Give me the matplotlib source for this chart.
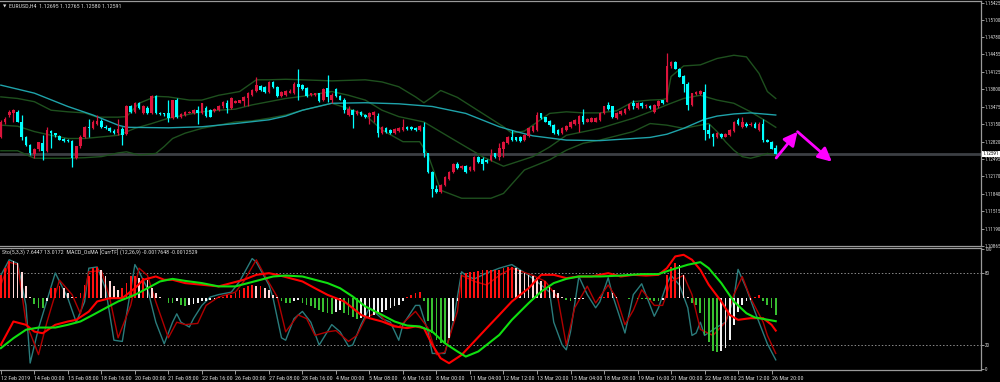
import matplotlib.pyplot as plt
import matplotlib.transforms as mtransforms
from matplotlib import font_manager
import numpy as np

# EURUSD H4 candles, bar 0 = 12 Feb 2019 16:00, last bar = 27 Mar 00:00
opens = [
    1.1291, 1.1318, 1.1332, 1.1336, 1.1338, 1.1319, 1.1290, 1.1276, 1.1259, 1.1268,
    1.1280, 1.1265, 1.1302, 1.1298, 1.1293, 1.1287, 1.1285, 1.1283, 1.1251, 1.1273,
    1.1290, 1.1309, 1.1308, 1.1316, 1.1321, 1.1310, 1.1307, 1.1302, 1.1299, 1.1306,
    1.1296, 1.1348, 1.1338, 1.1354, 1.1335, 1.1346, 1.1335, 1.1367, 1.1336, 1.1335,
    1.1335, 1.1326, 1.1360, 1.1328, 1.1332, 1.1336, 1.1336, 1.1341, 1.1335, 1.1346,
    1.1341, 1.1340, 1.1341, 1.1348, 1.1355, 1.1346, 1.1355, 1.1355, 1.1359, 1.1363,
    1.1369, 1.1377, 1.1386, 1.1385, 1.1376, 1.1394, 1.1385, 1.1367, 1.1369, 1.1374,
    1.1373, 1.1391, 1.1388, 1.1382, 1.1369, 1.1369, 1.1373, 1.1360, 1.1382, 1.1360,
    1.1380, 1.1367, 1.1361, 1.1332, 1.1341, 1.1334, 1.1338, 1.1332, 1.1329, 1.1332,
    1.1330, 1.1298, 1.1307, 1.1304, 1.1299, 1.1302, 1.1304, 1.1310, 1.1310, 1.1308,
    1.1304, 1.1310, 1.1260, 1.1226, 1.1194, 1.1188, 1.1201, 1.1213, 1.1226, 1.1241,
    1.1232, 1.1236, 1.1229, 1.1229, 1.1254, 1.1249, 1.1248, 1.1248, 1.1260, 1.1253,
    1.1269, 1.1279, 1.1291, 1.1290, 1.1290, 1.1285, 1.1293, 1.1302, 1.1304, 1.1335,
    1.1328, 1.1321, 1.1313, 1.1304, 1.1299, 1.1304, 1.1310, 1.1315, 1.1316, 1.1330,
    1.1319, 1.1319, 1.1319, 1.1323, 1.1335, 1.1351, 1.1348, 1.1326, 1.1334, 1.1336,
    1.1343, 1.1354, 1.1346, 1.1355, 1.1348, 1.1349, 1.1338, 1.1348, 1.1360, 1.1357,
    1.1423, 1.1432, 1.1419, 1.1405, 1.1391, 1.1351, 1.1371, 1.1371, 1.1376, 1.1304,
    1.1296, 1.1290, 1.1296, 1.1291, 1.1294, 1.1302, 1.1323, 1.1309, 1.1316, 1.1313,
    1.1316, 1.1304, 1.1316, 1.1286, 1.1282, 1.12695]
highs = [
    1.1323, 1.1328, 1.1341, 1.1344, 1.1341, 1.1332, 1.1293, 1.1278, 1.1271, 1.1282,
    1.1294, 1.1310, 1.1304, 1.1299, 1.1295, 1.1288, 1.1287, 1.1286, 1.1274, 1.1294,
    1.1311, 1.1324, 1.1323, 1.1332, 1.1324, 1.1313, 1.1309, 1.1305, 1.1324, 1.1310,
    1.1350, 1.1350, 1.1357, 1.1356, 1.1350, 1.1349, 1.1370, 1.1369, 1.1338, 1.1336,
    1.1361, 1.1361, 1.1363, 1.1336, 1.1340, 1.1340, 1.1343, 1.1348, 1.1355, 1.1348,
    1.1343, 1.1346, 1.1351, 1.1359, 1.1360, 1.1365, 1.1360, 1.1361, 1.1367, 1.1376,
    1.1380, 1.1404, 1.1388, 1.1387, 1.1396, 1.1396, 1.1386, 1.1377, 1.1379, 1.1380,
    1.1393, 1.1419, 1.1390, 1.1384, 1.1374, 1.1374, 1.1374, 1.1382, 1.1407, 1.1373,
    1.1382, 1.1369, 1.1363, 1.1348, 1.1343, 1.1341, 1.1340, 1.1334, 1.1338, 1.1340,
    1.1335, 1.1311, 1.1309, 1.1306, 1.1307, 1.1309, 1.1324, 1.1312, 1.1312, 1.1310,
    1.1313, 1.1319, 1.1261, 1.1228, 1.1201, 1.1202, 1.1217, 1.1228, 1.1242, 1.1244,
    1.1238, 1.1238, 1.1236, 1.1255, 1.1256, 1.1254, 1.1249, 1.1269, 1.1261, 1.1279,
    1.1283, 1.1293, 1.1304, 1.1291, 1.1292, 1.1296, 1.1309, 1.1313, 1.1338, 1.1336,
    1.1329, 1.1323, 1.1315, 1.1305, 1.1309, 1.1313, 1.1321, 1.1324, 1.1332, 1.1344,
    1.1326, 1.1328, 1.1328, 1.1337, 1.1349, 1.1357, 1.1349, 1.1337, 1.1342, 1.1346,
    1.1354, 1.1360, 1.1357, 1.1357, 1.1353, 1.1351, 1.1352, 1.1360, 1.1361, 1.1448,
    1.1434, 1.1433, 1.1421, 1.1407, 1.1393, 1.1374, 1.1377, 1.1379, 1.1391, 1.1316,
    1.1299, 1.1300, 1.1298, 1.1298, 1.1305, 1.1321, 1.1326, 1.1329, 1.1318, 1.1318,
    1.1318, 1.1318, 1.1324, 1.1287, 1.1283, 1.12765]
lows = [
    1.1288, 1.1315, 1.1329, 1.1319, 1.1318, 1.1285, 1.1274, 1.1257, 1.1251, 1.1265,
    1.1248, 1.1263, 1.1271, 1.1291, 1.1285, 1.1282, 1.1281, 1.1234, 1.1249, 1.1271,
    1.1288, 1.1291, 1.1306, 1.1313, 1.1308, 1.1305, 1.1301, 1.1296, 1.1294, 1.1275,
    1.1294, 1.1335, 1.1335, 1.1344, 1.1333, 1.1333, 1.1334, 1.1333, 1.1332, 1.1331,
    1.1319, 1.1324, 1.1326, 1.1326, 1.1330, 1.1335, 1.1334, 1.1316, 1.1334, 1.1329,
    1.1328, 1.1338, 1.1340, 1.1346, 1.1336, 1.1344, 1.1354, 1.1354, 1.1348, 1.1348,
    1.1367, 1.1376, 1.1377, 1.1374, 1.1374, 1.1383, 1.1366, 1.1366, 1.1367, 1.1373,
    1.1371, 1.1360, 1.1379, 1.1366, 1.1368, 1.1368, 1.1357, 1.1358, 1.1357, 1.1354,
    1.1366, 1.1360, 1.1335, 1.1330, 1.1307, 1.1332, 1.1330, 1.1326, 1.1316, 1.1319,
    1.1290, 1.1296, 1.1299, 1.1297, 1.1297, 1.1301, 1.1302, 1.1304, 1.1304, 1.1302,
    1.1302, 1.1254, 1.1224, 1.1179, 1.1185, 1.1186, 1.1199, 1.1211, 1.1224, 1.1230,
    1.1230, 1.1224, 1.1227, 1.1227, 1.1242, 1.1229, 1.1242, 1.1246, 1.1251, 1.1248,
    1.1254, 1.1278, 1.1284, 1.1283, 1.1282, 1.1283, 1.1291, 1.1301, 1.1302, 1.1324,
    1.1318, 1.1311, 1.1296, 1.1294, 1.1297, 1.1302, 1.1308, 1.1313, 1.1301, 1.1316,
    1.1318, 1.1318, 1.1318, 1.1321, 1.1334, 1.1341, 1.1326, 1.1324, 1.1332, 1.1334,
    1.1341, 1.1343, 1.1344, 1.1346, 1.1346, 1.1344, 1.1335, 1.1346, 1.1353, 1.1356,
    1.1421, 1.1418, 1.1403, 1.1376, 1.1341, 1.1349, 1.1370, 1.1370, 1.1286, 1.1288,
    1.1273, 1.1289, 1.1289, 1.1290, 1.1293, 1.1301, 1.1313, 1.1307, 1.1310, 1.1312,
    1.1307, 1.1302, 1.1282, 1.1281, 1.1268, 1.12580]
closes = [
    1.1319, 1.1324, 1.1338, 1.1341, 1.1319, 1.1291, 1.1276, 1.1260, 1.1269, 1.1281,
    1.1265, 1.1304, 1.1298, 1.1294, 1.1286, 1.1284, 1.1283, 1.1251, 1.1273, 1.1291,
    1.1309, 1.1307, 1.1319, 1.1321, 1.1310, 1.1307, 1.1302, 1.1299, 1.1306, 1.1294,
    1.1348, 1.1338, 1.1354, 1.1346, 1.1348, 1.1335, 1.1367, 1.1335, 1.1334, 1.1333,
    1.1326, 1.1360, 1.1328, 1.1334, 1.1338, 1.1338, 1.1341, 1.1335, 1.1354, 1.1330,
    1.1329, 1.1344, 1.1349, 1.1357, 1.1346, 1.1363, 1.1359, 1.1360, 1.1366, 1.1373,
    1.1379, 1.1388, 1.1379, 1.1376, 1.1394, 1.1385, 1.1367, 1.1376, 1.1377, 1.1377,
    1.1391, 1.1385, 1.1380, 1.1367, 1.1373, 1.1373, 1.1359, 1.1380, 1.1366, 1.1369,
    1.1367, 1.1361, 1.1341, 1.1344, 1.1332, 1.1340, 1.1332, 1.1328, 1.1336, 1.1338,
    1.1298, 1.1309, 1.1301, 1.1299, 1.1305, 1.1307, 1.1310, 1.1306, 1.1306, 1.1304,
    1.1311, 1.1260, 1.1226, 1.1194, 1.1188, 1.1201, 1.1216, 1.1226, 1.1241, 1.1232,
    1.1236, 1.1226, 1.1235, 1.1254, 1.1244, 1.1240, 1.1244, 1.1257, 1.1253, 1.1271,
    1.1282, 1.1291, 1.1285, 1.1285, 1.1284, 1.1294, 1.1307, 1.1311, 1.1332, 1.1326,
    1.1319, 1.1313, 1.1299, 1.1296, 1.1307, 1.1311, 1.1319, 1.1323, 1.1330, 1.1319,
    1.1324, 1.1326, 1.1326, 1.1335, 1.1348, 1.1344, 1.1328, 1.1335, 1.1340, 1.1344,
    1.1353, 1.1348, 1.1355, 1.1348, 1.1351, 1.1346, 1.1351, 1.1358, 1.1355, 1.1424,
    1.1432, 1.1419, 1.1404, 1.1391, 1.1351, 1.1373, 1.1376, 1.1377, 1.1304, 1.1296,
    1.1290, 1.1298, 1.1291, 1.1296, 1.1304, 1.1319, 1.1316, 1.1319, 1.1311, 1.1316,
    1.1307, 1.1316, 1.1285, 1.1282, 1.1269, 1.12591]

# Bollinger bands and moving average, read at some bars
bb_up_x = [0, 4, 8, 12, 16, 20, 23, 28, 30, 33, 37, 40, 45, 48, 52, 57, 61, 64, 68, 72, 79, 87, 91,
           95, 99, 101, 103, 105, 109, 115, 120, 122, 125, 127, 131, 135, 139, 143, 147, 151, 155, 158,
           159, 160, 163, 167, 171, 175, 178, 181, 183, 185]
bb_up = [1.1366, 1.1363, 1.1357, 1.1341, 1.1338, 1.1336, 1.1328, 1.1328, 1.1329, 1.1354, 1.1367, 1.1366,
         1.1360, 1.1360, 1.1369, 1.1376, 1.1398, 1.1398, 1.1399, 1.1398, 1.1396, 1.1398, 1.1394, 1.1385,
         1.1366, 1.1355, 1.1366, 1.1378, 1.1365, 1.1335, 1.1310, 1.1298, 1.1302, 1.1313, 1.1335, 1.1338,
         1.1336, 1.1336, 1.1340, 1.1357, 1.1360, 1.1361, 1.1363, 1.1404, 1.1424, 1.1426, 1.1438, 1.1444,
         1.1441, 1.1410, 1.1376, 1.1363]
bb_mid_x = [0, 4, 8, 12, 16, 20, 24, 28, 32, 36, 40, 44, 48, 52, 56, 60, 64, 68, 72, 79, 83, 87, 91, 95,
            101, 107, 115, 120, 127, 131, 135, 143, 151, 155, 159, 163, 167, 171, 175, 179, 183, 185]
bb_mid = [1.1313, 1.1311, 1.1301, 1.1294, 1.1288, 1.1288, 1.1291, 1.1294, 1.1307, 1.1316, 1.1326, 1.1332,
          1.1338, 1.1341, 1.1343, 1.1351, 1.1357, 1.1363, 1.1367, 1.1376, 1.1369, 1.1360, 1.1341, 1.1329,
          1.1319, 1.1291, 1.1254, 1.1236, 1.1254, 1.1272, 1.1294, 1.1307, 1.1326, 1.1338, 1.1351, 1.1363,
          1.1369, 1.1360, 1.1354, 1.1338, 1.1319, 1.1309]
bb_low_x = [0, 4, 8, 12, 16, 20, 24, 28, 30, 33, 37, 39, 41, 44, 48, 52, 56, 60, 64, 68, 72, 79, 83, 87,
            91, 96, 100, 102, 105, 110, 117, 120, 125, 131, 135, 139, 143, 151, 155, 159, 163, 167, 169,
            171, 173, 175, 177, 179, 181, 183, 185]
bb_low = [1.1265, 1.1265, 1.1251, 1.1251, 1.1251, 1.1252, 1.1254, 1.1261, 1.1263, 1.1257, 1.1260, 1.1273,
          1.1288, 1.1298, 1.1307, 1.1313, 1.1319, 1.1321, 1.1326, 1.1332, 1.1341, 1.1354, 1.1344, 1.1332,
          1.1304, 1.1282, 1.1282, 1.1257, 1.1191, 1.1176, 1.1176, 1.1185, 1.1229, 1.1248, 1.1266, 1.1279,
          1.1285, 1.1301, 1.1316, 1.1313, 1.1307, 1.1313, 1.1316, 1.1301, 1.1282, 1.1266, 1.1254, 1.1251,
          1.1255, 1.1260, 1.1257]
ma_x = [0, 8, 16, 22, 28, 30, 40, 48, 56, 64, 68, 72, 79, 87, 95, 103, 111, 119, 123, 127, 135, 143, 151,
        155, 159, 163, 168, 171, 175, 179, 185]
ma = [1.1388, 1.1373, 1.1348, 1.1332, 1.1313, 1.1309, 1.1308, 1.1310, 1.1316, 1.1323, 1.1330, 1.1341,
      1.1354, 1.1355, 1.1353, 1.1348, 1.1335, 1.1310, 1.1301, 1.1293, 1.1285, 1.1284, 1.1288, 1.1290,
      1.1296, 1.1307, 1.1324, 1.1330, 1.1334, 1.1336, 1.1332]

# hand-drawn arrows (bar, price)
arrow_x = [185.1, 190.2, 198.4]
arrow_y = [1.12515, 1.13007, 1.12445]

# Stochastic (5,3,3)
sto_x = [0, 2, 4, 6, 7, 9, 13, 16, 18, 20, 21, 23, 25, 27, 29, 30, 32, 33, 35, 37, 39, 41, 42, 43, 45, 46,
         48, 50, 52, 55, 57, 60, 61, 64, 65, 67, 68, 70, 72, 74, 76, 79, 81, 83, 84, 86, 88, 91, 93, 95, 96,
         99, 100, 102, 103, 106, 108, 110, 111, 113, 116, 119, 122, 126, 129, 131, 132, 134, 135, 136, 138,
         140, 142, 143, 145, 146, 149, 151, 153, 154, 156, 157, 159, 160, 162, 164, 165, 166, 167, 168,
         171, 173, 175, 176, 178, 180, 181, 183, 185]
sto_main = [78, 91, 88, 53, 5, 34, 80, 59, 39, 56, 84, 85, 67, 24, 23, 45, 87, 81, 67, 39, 21, 39, 46, 39,
            35, 42, 53, 60, 62, 64, 73, 92, 89, 70, 59, 26, 24, 42, 48, 39, 20, 37, 31, 19, 20, 37, 51, 42,
            39, 24, 37, 53, 53, 31, 13, 13, 39, 81, 78, 75, 80, 84, 87, 78, 70, 64, 39, 20, 16, 31, 77, 62,
            51, 56, 76, 62, 30, 62, 71, 62, 44, 51, 71, 78, 70, 51, 28, 30, 39, 28, 35, 39, 59, 83, 67, 48,
            39, 21, 7.6447]
sto_sig_x = [0, 2, 4, 6, 9, 11, 14, 17, 19, 21, 24, 26, 28, 31, 33, 35, 37, 40, 42, 44, 47, 49, 52, 56, 58,
             61, 63, 66, 68, 71, 73, 75, 78, 80, 83, 85, 87, 90, 92, 95, 99, 102, 104, 106, 109, 110, 113,
             116, 119, 122, 127, 130, 133, 135, 137, 140, 142, 145, 147, 149, 151, 153, 156, 158, 160, 163,
             165, 167, 170, 173, 175, 177, 179, 182, 183, 185]
sto_sig = [70, 89, 87, 39, 12, 39, 74, 62, 46, 81, 82, 59, 26, 53, 84, 78, 56, 26, 39, 37, 38, 53, 60, 64,
           73, 91, 78, 60, 31, 45, 42, 28, 31, 32, 23, 28, 42, 48, 39, 35, 48, 34, 12, 14, 48, 78, 73, 70,
           78, 84, 78, 73, 59, 20, 51, 69, 55, 70, 59, 37, 49, 66, 53, 53, 73, 78, 62, 33, 28, 39, 62, 77,
           59, 39, 28, 13.0172]

# MACD_OsMA (12,26,9): main, signal and histogram
macd_x = [0, 3, 6, 8, 10, 13, 16, 18, 21, 23, 26, 29, 32, 34, 37, 39, 41, 44, 48, 52, 55, 58, 61, 64, 66,
          69, 72, 75, 78, 82, 84, 86, 88, 91, 94, 97, 99, 101, 103, 105, 107, 110, 113, 116, 119, 122, 126,
          129, 132, 135, 138, 141, 145, 148, 151, 154, 157, 159, 161, 163, 165, 167, 169, 172, 174, 176,
          179, 182, 184, 185]
macd_main = [-0.00254, -0.00127, -0.00145, -0.00182, -0.00191, -0.00145, -0.00127, -0.00118, -0.00073,
             -0.00018, 0.0, 0.0, 0.00054, 0.00100, 0.00118, 0.00100, 0.00100, 0.00082, 0.00073, 0.00064,
             0.00082, 0.00100, 0.00127, 0.00136, 0.00127, 0.00109, 0.00091, 0.00054, 0.00018, -0.00018,
             -0.00054, -0.00091, -0.00109, -0.00127, -0.00154, -0.00163, -0.00154, -0.00163, -0.00254,
             -0.00327, -0.00354, -0.00309, -0.00236, -0.00163, -0.00091, -0.00018, 0.00054, 0.00127,
             0.00127, 0.00109, 0.00118, 0.00118, 0.00136, 0.00118, 0.00127, 0.00123, 0.00127, 0.00163,
             0.00227, 0.00236, 0.00209, 0.00154, 0.00073, -0.00018, -0.00091, -0.00118, -0.00109,
             -0.00109, -0.00145, -0.0017648]
macd_sig_x = [0, 3, 6, 9, 13, 16, 19, 22, 25, 28, 32, 35, 38, 41, 44, 48, 52, 56, 59, 62, 65, 68, 72, 75,
              78, 81, 84, 87, 91, 94, 97, 100, 103, 106, 109, 111, 114, 117, 119, 122, 126, 129, 132, 135,
              138, 143, 148, 153, 157, 160, 164, 167, 169, 172, 175, 178, 180, 182, 185]
macd_sig = [-0.00272, -0.00218, -0.00172, -0.00160, -0.00160, -0.00145, -0.00127, -0.00091, -0.00054,
            -0.00018, 0.00018, 0.00054, 0.00091, 0.00105, 0.00094, 0.00082, 0.00064, 0.00064, 0.00082,
            0.00100, 0.00118, 0.00123, 0.00118, 0.00100, 0.00082, 0.00054, 0.00009, -0.00045, -0.00091,
            -0.00127, -0.00149, -0.00154, -0.00182, -0.00245, -0.00290, -0.00318, -0.00290, -0.00236,
            -0.00200, -0.00118, -0.00027, 0.00036, 0.00082, 0.00105, 0.00118, 0.00118, 0.00123, 0.00131,
            0.00131, 0.00154, 0.00182, 0.00196, 0.00163, 0.00082, -0.00018, -0.00082, -0.00105, -0.00113,
            -0.0012529]
osma = [
    0.00127, 0.00163, 0.00203, 0.00200, 0.00191, 0.00145, 0.00064, 0.00009, -0.00033, -0.00054,
    -0.00054, -0.00015, 0.00054, 0.00058, 0.00064, 0.00054, 0.00027, 0.00009, 0.00009, 0.00027,
    0.00073, 0.00118, 0.00163, 0.00172, 0.00154, 0.00118, 0.00091, 0.00064, 0.00045, 0.00054,
    0.00082, 0.00118, 0.00118, 0.00109, 0.00109, 0.00100, 0.00054, 0.00027, 0.00009, 0.00001,
    -0.00027, -0.00027, -0.00018, -0.00036, -0.00045, -0.00036, -0.00033, -0.00027, -0.00018, -0.00015,
    -0.00009, -0.00004, 0.00004, 0.00009, 0.00018, 0.00018, 0.00027, 0.00045, 0.00054, 0.00064,
    0.00073, 0.00064, 0.00064, 0.00054, 0.00045, 0.00018, 0.00009, -0.00018, -0.00027, -0.00027,
    -0.00018, -0.00009, -0.00027, -0.00036, -0.00045, -0.00054, -0.00064, -0.00073, -0.00082, -0.00087,
    -0.00076, -0.00064, -0.00082, -0.00091, -0.00105, -0.00113, -0.00109, -0.00105, -0.00100, -0.00091,
    -0.00082, -0.00073, -0.00064, -0.00054, -0.00045, -0.00036, -0.00018, 0.00009, 0.00018, 0.00027,
    0.00036, -0.00018, -0.00127, -0.00191, -0.00227, -0.00245, -0.00250, -0.00218, -0.00127, -0.00018,
    0.00127, 0.00136, 0.00145, 0.00145, 0.00149, 0.00151, 0.00152, 0.00154, 0.00154, 0.00154,
    0.00163, 0.00172, 0.00172, 0.00163, 0.00154, 0.00136, 0.00127, 0.00118, 0.00109, 0.00091,
    0.00091, 0.00064, 0.00045, 0.00027, 0.00009, -0.00009, -0.00015, -0.00007, -0.00005, -0.00002,
    0.00001, 0.00001, 0.00001, 0.00004, 0.00009, 0.00033, 0.00027, 0.00004, 0.00001, -0.00001,
    -0.00002, -0.00001, -0.00002, -0.00002, -0.00005, -0.00011, -0.00015, -0.00018, -0.00011, 0.00127,
    0.00172, 0.00191, 0.00182, 0.00127, 0.00009, -0.00027, -0.00036, -0.00082, -0.00200, -0.00236,
    -0.00290, -0.00294, -0.00290, -0.00272, -0.00227, -0.00145, -0.00073, -0.00036, -0.00018, -0.00009,
    0.00004, 0.00018, -0.00015, -0.00036, -0.00054, -0.00091]

price_ticks = [1.15425, 1.15100, 1.14780, 1.14455, 1.14125, 1.13800, 1.13475, 1.13150, 1.12820,
               1.12495, 1.12170, 1.11840, 1.11515, 1.11190, 1.10865]
date_bars = list(range(0, 185, 8))
date_labels = ['12 Feb 2019', '14 Feb 00:00', '15 Feb 08:00', '18 Feb 16:00', '20 Feb 00:00',
               '21 Feb 08:00', '22 Feb 16:00', '26 Feb 00:00', '27 Feb 08:00', '28 Feb 16:00',
               '4 Mar 00:00', '5 Mar 08:00', '6 Mar 16:00', '8 Mar 00:00', '11 Mar 04:00',
               '12 Mar 12:00', '13 Mar 20:00', '15 Mar 04:00', '18 Mar 08:00', '19 Mar 16:00',
               '21 Mar 00:00', '22 Mar 08:00', '25 Mar 12:00', '26 Mar 20:00']

# pick a narrow font if one is installed, the terminal font is very condensed
entries = font_manager.fontManager.ttflist
names = {f.name for f in entries}
FSTRETCH = 'normal'
if 'Liberation Sans Narrow' in names:
    FAMILY, FS = 'Liberation Sans Narrow', 4.3
elif 'Roboto Condensed' in names:
    FAMILY, FS = 'Roboto Condensed', 4.3
elif any(f.name == 'DejaVu Sans' and str(f.stretch) == 'condensed' for f in entries):
    FAMILY, FS, FSTRETCH = 'DejaVu Sans', 3.9, 'condensed'
else:
    FAMILY, FS = 'DejaVu Sans', 3.3
FS_AX = FS * 0.86   # price scale labels have to fit in the 19 px right margin
plt.rcParams['font.family'] = [FAMILY, 'DejaVu Sans']
plt.rcParams['font.stretch'] = FSTRETCH

BULL = '#dc143c'
BEAR = '#00ffff'
GRID = '#9a9a9a'
TXT = '#d8d8d8'

W, H = 1000, 382
def box(x0, y0, x1, y1):
    return [x0 / W, 1 - y1 / H, (x1 - x0) / W, (y1 - y0) / H]

fig = plt.figure(figsize=(10, 3.82), dpi=100, facecolor='black')
ax = fig.add_axes(box(0, 1, 981, 246), facecolor='black')
ax2 = fig.add_axes(box(0, 248, 981, 370), facecolor='black', sharex=ax)

# --- main window
x = np.arange(len(closes))
o, hi, lo, c = np.array(opens), np.array(highs), np.array(lows), np.array(closes)
cols = np.where(c >= o, BULL, BEAR)
ax.axhline(closes[-1], color='#3c3f44', lw=2, zorder=0.5)
ax.plot(bb_up_x, bb_up, color='#1e501e', lw=1, zorder=1)
ax.plot(bb_mid_x, bb_mid, color='#1e501e', lw=1, zorder=1)
ax.plot(bb_low_x, bb_low, color='#1e501e', lw=1, zorder=1)
ax.plot(ma_x, ma, color='#1fa3aa', lw=1, zorder=1)
ax.vlines(x, lo, hi, colors=cols, lw=0.9, zorder=2)
ax.bar(x, np.maximum(np.abs(c - o), 0.00004), bottom=np.minimum(o, c), width=0.62,
       color=cols, linewidth=0, zorder=3)
for i in range(2):
    ax.annotate('', xy=(arrow_x[i + 1], arrow_y[i + 1]), xytext=(arrow_x[i], arrow_y[i]),
                arrowprops=dict(arrowstyle='-|>,head_length=0.9,head_width=0.45', color='#ff00ff',
                                lw=2, mutation_scale=9, shrinkA=0, shrinkB=0), zorder=4)

ax.set_xlim(-0.2, 234.0)
ax.set_ylim(1.10865, 1.15457)
ax.yaxis.tick_right()
ax.set_yticks(price_ticks)
ax.set_yticklabels([f'{v:.5f}' for v in price_ticks])
ax.tick_params(axis='y', length=2, width=0.7, color=GRID, labelcolor=TXT, labelsize=FS_AX, pad=0.8)
ax.tick_params(axis='x', bottom=False, labelbottom=False)
ax.spines['left'].set_visible(False)
for s in ['right', 'bottom', 'top']:
    ax.spines[s].set_color(GRID)
    ax.spines[s].set_linewidth(0.9)
ax.text(1.0015, closes[-1], f'{closes[-1]:.5f}',
        transform=mtransforms.blended_transform_factory(ax.transAxes, ax.transData),
        ha='left', va='center', fontsize=FS_AX, color='black', clip_on=False, zorder=10,
        bbox=dict(boxstyle='square,pad=0.15', fc='white', ec='none'))

# --- indicator window
ax2.set_ylim(-0.8, 100.8)
for lvl in (80, 20):
    ax2.axhline(lvl, color='#8a8a8a', lw=0.7, ls=(0, (1.5, 2)), zorder=0)
ax2.plot(sto_x, sto_main, color='#2a7c7c', lw=1, zorder=2)
ax2.plot(sto_sig_x, sto_sig, color='#b00000', lw=1, zorder=2)

axm = ax2.twinx()
axm.set_ylim(-0.00391, 0.00273)
axm.set_axis_off()
hcols = []
for i, v in enumerate(osma):
    prev = osma[i - 1] if i else v
    if v >= 0:
        hcols.append('#ff1010' if v >= prev else '#ffd8d8')
    else:
        hcols.append('#38c030' if v <= prev else '#f2f2f2')
axm.bar(x, osma, width=0.42, color=hcols, linewidth=0, zorder=1)
axm.plot(macd_x, macd_main, color='#ff0000', lw=1.5, zorder=3)
axm.plot(macd_sig_x, macd_sig, color='#10e010', lw=1.5, zorder=3)

ax2.yaxis.tick_right()
ax2.set_yticks([0, 20, 80, 100])
ax2.set_yticklabels(['0', '20', '80', '100'])
ax2.set_xticks(date_bars)
ax2.set_xticklabels(date_labels, ha='left')
ax2.tick_params(axis='y', length=2, width=0.7, color=GRID, labelcolor=TXT, labelsize=FS_AX, pad=0.8)
ax2.tick_params(axis='x', length=3, width=0.7, color=GRID, labelcolor=TXT, labelsize=FS, pad=1)
ax2.spines['left'].set_visible(False)
for s in ['right', 'bottom', 'top']:
    ax2.spines[s].set_color(GRID)
    ax2.spines[s].set_linewidth(0.9)

# window captions
fig.text(3 / W, 1 - 6.5 / H, '\u25bc', color=TXT, fontsize=3.2, va='center', ha='left',
         family='DejaVu Sans')
fig.text(9 / W, 1 - 6.5 / H, 'EURUSD,H4  1.12695 1.12765 1.12580 1.12591', color=TXT,
         fontsize=FS, va='center', ha='left')
fig.text(2 / W, 1 - 252.5 / H,
         'Sto(5,3,3) 7.6447 13.0172  MACD_OsMA [CurrTF] (12,26,9) -0.0017648 -0.0012529',
         color=TXT, fontsize=FS, va='center', ha='left')

fig.savefig('out.png', dpi=100, facecolor='black')
